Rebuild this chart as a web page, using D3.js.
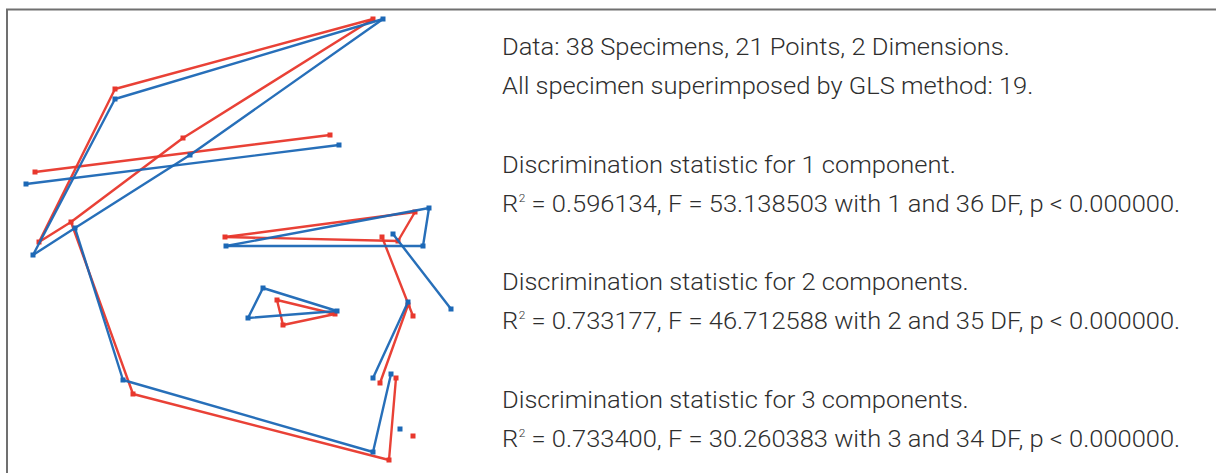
<!DOCTYPE html>
<html>
<head>
<meta charset="utf-8">
<script src="https://cdn.jsdelivr.net/npm/d3@7"></script>
<style>
  html, body { margin: 0; padding: 0; background: #fff; }
  svg { display: block; }
</style>
</head>
<body>
<svg id="chart" width="1216" height="473"></svg>
<script>
// Landmark coordinates (superimposed Procrustes-like units), 21 landmarks per group
const redX  = [0.266, -0.250, -0.114, -0.338, -0.402, -0.410, 0.180, -0.214, 0.298, 0.312, -0.030, 0.350, 0.316, 0.284, 0.346, 0.280, 0.336, 0.074, 0.190, 0.086, 0.346];
const redY  = [0.442,  0.302,  0.204,  0.036, -0.004,  0.136, 0.210, -0.308, -0.440, -0.276, 0.006, 0.056, -0.002, 0.006, -0.152, -0.286, -0.130, -0.120, -0.148, -0.170, -0.392];
const blueX = [0.286, -0.250, -0.100, -0.330, -0.414, -0.428, 0.198, -0.234, 0.266, 0.302, -0.028, 0.378, 0.366, 0.306, 0.422, 0.266, 0.336, 0.046, 0.194, 0.016, 0.320];
const blueY = [0.442,  0.282,  0.170,  0.024, -0.030,  0.112, 0.190, -0.280, -0.424, -0.268, -0.012, 0.064, -0.012, 0.012, -0.138, -0.276, -0.124, -0.096, -0.142, -0.156, -0.378];
// Wireframe links (1-based landmark indices)
const linkFrom = [5, 2, 1, 3, 4, 6, 4, 8, 9, 11, 12, 13, 14, 17, 18, 19, 20];
const linkTo   = [2, 1, 3, 4, 5, 7, 8, 9, 10, 12, 13, 11, 15, 16, 19, 20, 18];
const groupNames  = ["red", "blue"];
const groupColors = ["#e8372c", "#1c68b6"];

const textLines = [
  "Data: 38 Specimens, 21 Points, 2 Dimensions.",
  "All specimen superimposed by GLS method: 19.",
  "",
  "Discrimination statistic for 1 component.",
  "R2| = 0.596134, F = 53.138503 with 1 and 36 DF, p < 0.000000.",
  "",
  "Discrimination statistic for 2 components.",
  "R2| = 0.733177, F = 46.712588 with 2 and 35 DF, p < 0.000000.",
  "",
  "Discrimination statistic for 3 components.",
  "R2| = 0.733400, F = 30.260383 with 3 and 34 DF, p < 0.000000."
];

const svg = d3.select("#chart");

// frame
svg.append("path")
  .attr("d", "M7,473 V9.5 H1216")
  .attr("fill", "none")
  .attr("stroke", "#707070")
  .attr("stroke-width", 2);

const x = d3.scaleLinear().domain([-0.48, 0.48]).range([0, 480]);
const y = d3.scaleLinear().domain([-0.48, 0.48]).range([480, 0]);

const groups = [
  {xs: redX, ys: redY, color: groupColors[0]},
  {xs: blueX, ys: blueY, color: groupColors[1]}
];

const plot = svg.append("g");
groups.forEach(g => {
  const gg = plot.append("g");
  const links = linkFrom.map((f, i) => [f - 1, linkTo[i] - 1]);
  gg.selectAll("line").data(links).join("line")
    .attr("x1", d => x(g.xs[d[0]])).attr("y1", d => y(g.ys[d[0]]))
    .attr("x2", d => x(g.xs[d[1]])).attr("y2", d => y(g.ys[d[1]]))
    .attr("stroke", g.color).attr("stroke-width", 2.4)
    .attr("stroke-linecap", "round").attr("opacity", 0.95);
  const s = 5;
  gg.selectAll("rect").data(d3.range(g.xs.length)).join("rect")
    .attr("x", i => x(g.xs[i]) - s / 2).attr("y", i => y(g.ys[i]) - s / 2)
    .attr("width", s).attr("height", s)
    .attr("fill", g.color);
});

// text panel
const tg = svg.append("g").attr("transform", "translate(502,0)");
const inner = tg.append("g");
const lineStep = 39.2, firstBase = 55;
textLines.forEach((t, k) => {
  if (!t) return;
  const te = inner.append("text")
    .attr("x", 0).attr("y", firstBase + k * lineStep)
    .attr("font-family", "Roboto, 'Liberation Sans', sans-serif")
    .attr("font-weight", 300)
    .attr("font-size", 23.5)
    .attr("fill", "#2e2e2e");
  if (t.includes("|")) {
    const [a, rest] = t.split("|");
    te.append("tspan").text(a[0]);
    te.append("tspan").text(a[1]).attr("font-size", 11).attr("dy", -10).attr("dx", 0.5);
    te.append("tspan").text(rest).attr("dy", 10);
  } else {
    te.text(t);
  }
});
// condense horizontally to match the narrow typeface of the reference
const target = 1180 - 502;
let maxW = 0;
inner.selectAll("text").each(function() { maxW = Math.max(maxW, this.getComputedTextLength()); });
const sx = target / maxW;
inner.attr("transform", `scale(${sx},1)`);
</script>
</body>
</html>
